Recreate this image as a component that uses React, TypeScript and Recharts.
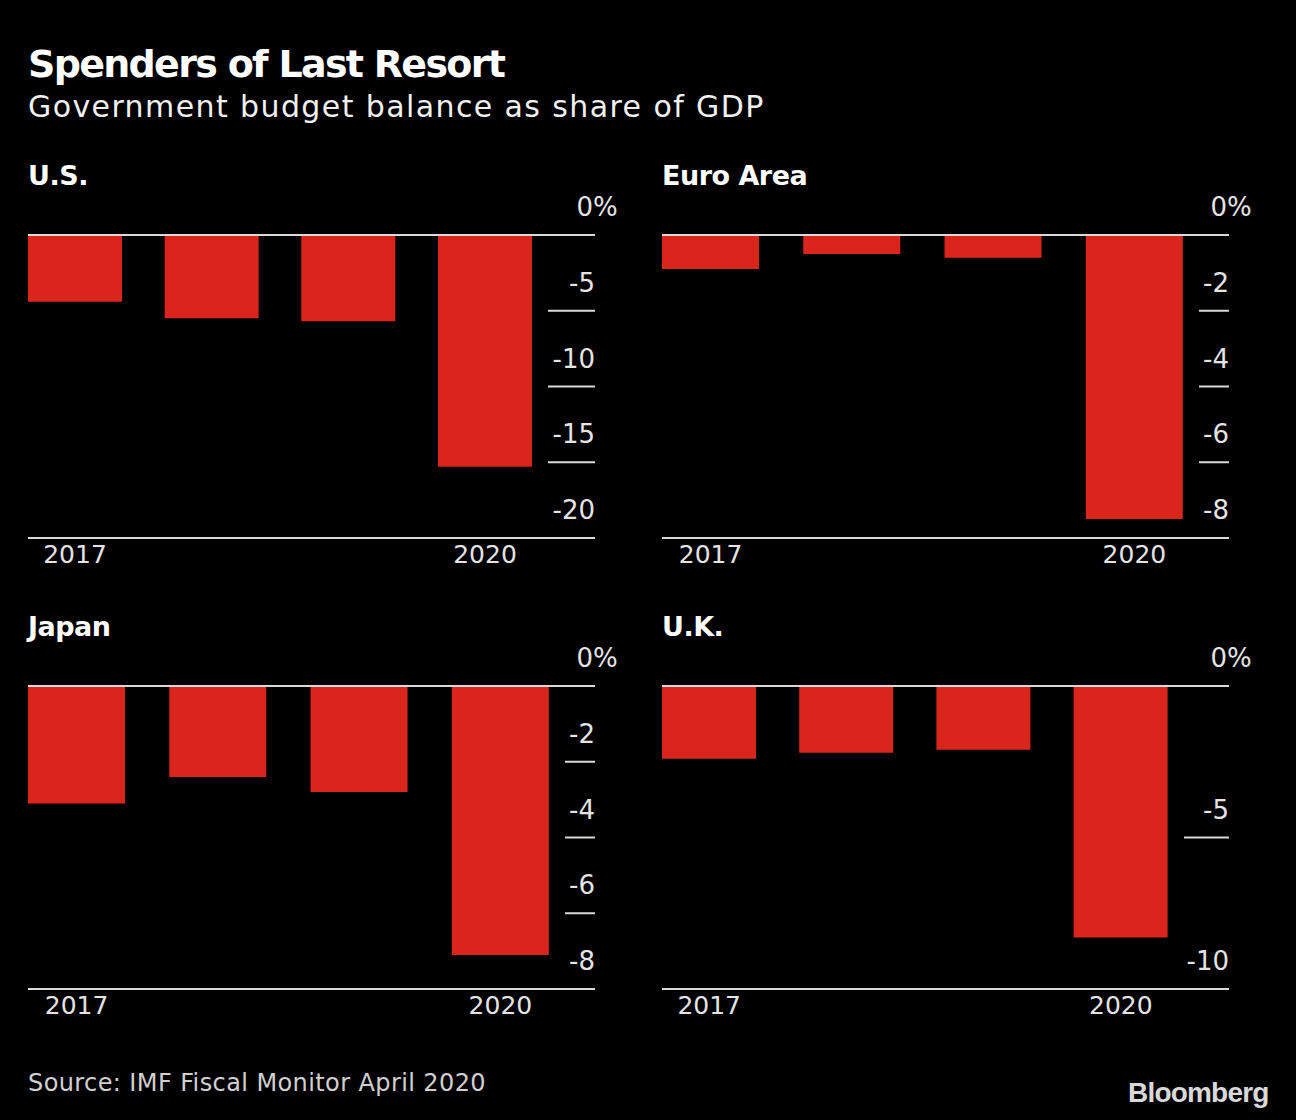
import React from "react";
import { BarChart, Bar, XAxis, YAxis, ReferenceLine } from "recharts";

const years = ["2017", "2018", "2019", "2020"];
const usBalance = [-4.4, -5.5, -5.7, -15.3];
const euroBalance = [-0.9, -0.5, -0.6, -7.5];
const japanBalance = [-3.1, -2.4, -2.8, -7.1];
const ukBalance = [-2.4, -2.2, -2.1, -8.3];

const usTicks = [0, -5, -10, -15, -20];
const euroTicks = [0, -2, -4, -6, -8];
const japanTicks = [0, -2, -4, -6, -8];
const ukTicks = [0, -5, -10];
const shownYears = ["2017", "2020"];

const RED = "#da251d";
const TEXT = "#e4e4e4";
const RULE = "#d9d9d9";
const FONT = "'DejaVu Sans', sans-serif";

const CHART_W = 660;
const CHART_H = 390;
const PLOT_L = 28;
const PLOT_W = 567;
const PLOT_TOP = 50;
const AXIS_H = 37;
const Y_AXIS_W = 60;
const BAR_FRAC = 0.688;

interface PanelProps {
  title: string;
  values: number[];
  ticks: number[];
  left: number;
  top: number;
  ruleWidth: number;
}

const YTick = (props: any) => {
  const { x, y, payload, ruleWidth } = props;
  const v = payload.value;
  return (
    <g>
      {v !== 0 && (
        <line x1={x - ruleWidth} x2={x} y1={y} y2={y} stroke={RULE} strokeWidth={2} />
      )}
      <text x={v === 0 ? x - 2 : x} y={y - 19} textAnchor="end" fill={TEXT} fontSize={26} fontFamily={FONT}>
        {String(v)}
      </text>
      {v === 0 && (
        <text x={x - 2} y={y - 19} textAnchor="start" fill={TEXT} fontSize={26} fontFamily={FONT}>
          %
        </text>
      )}
    </g>
  );
};

const XTick = (props: any) => {
  const { x, y, payload } = props;
  if (!shownYears.includes(payload.value)) return <g />;
  return (
    <text x={x} y={y + 25} textAnchor="middle" fill={TEXT} fontSize={25} fontFamily={FONT}>
      {payload.value}
    </text>
  );
};

const Panel: React.FC<PanelProps> = ({ title, values, ticks, left, top, ruleWidth }) => {
  const data = years.map((year, i) => ({ year, value: values[i] }));
  const barsW = PLOT_W - ruleWidth - 16;
  const band = barsW / (3 + BAR_FRAC);
  const gap = band * (1 - BAR_FRAC);
  const minTick = Math.min(...ticks);
  return (
    <>
      <div
        style={{
          position: "absolute",
          left: left + PLOT_L,
          top: top - 23,
          fontFamily: FONT,
          fontWeight: "bold",
          fontSize: 27,
          lineHeight: "27px",
          color: "#fff",
          letterSpacing: -0.5,
        }}
      >
        {title}
      </div>
      <div style={{ position: "absolute", left, top }}>
        <BarChart
          width={CHART_W}
          height={CHART_H}
          data={data}
          margin={{ top: PLOT_TOP, left: PLOT_L, right: CHART_W - PLOT_L - PLOT_W - Y_AXIS_W, bottom: 0 }}
          barCategoryGap={`${((1 - BAR_FRAC) / 2) * 100}%`}
        >
          <XAxis
            dataKey="year"
            height={AXIS_H}
            padding={{ left: -gap / 2, right: ruleWidth + 16 - gap / 2 }}
            axisLine={{ stroke: RULE, strokeWidth: 2 }}
            tickLine={false}
            tickSize={0}
            tickMargin={0}
            interval={0}
            tick={<XTick />}
          />
          <YAxis
            orientation="right"
            width={Y_AXIS_W}
            type="number"
            domain={[minTick, 0]}
            ticks={ticks}
            axisLine={false}
            tickLine={false}
            tickSize={0}
            tickMargin={0}
            interval={0}
            tick={<YTick ruleWidth={ruleWidth} />}
          />
          <Bar dataKey="value" fill={RED} isAnimationActive={false} />
          <ReferenceLine y={0} stroke={RULE} strokeWidth={2} />
        </BarChart>
      </div>
    </>
  );
};

export default function App() {
  return (
    <div
      style={{
        position: "absolute",
        left: 0,
        top: 0,
        width: 1296,
        height: 1120,
        background: "#000",
        overflow: "hidden",
      }}
    >
      <div
        style={{
          position: "absolute",
          left: 28,
          top: 45,
          fontFamily: FONT,
          fontWeight: "bold",
          fontSize: 38,
          lineHeight: "38px",
          letterSpacing: -1.7,
          color: "#fff",
          whiteSpace: "nowrap",
        }}
      >
        Spenders of Last Resort
      </div>
      <div
        style={{
          position: "absolute",
          left: 28,
          top: 92,
          fontFamily: FONT,
          fontSize: 30,
          lineHeight: "29px",
          letterSpacing: 1.4,
          color: "#f0f0f0",
          whiteSpace: "nowrap",
        }}
      >
        Government budget balance as share of GDP
      </div>

      <Panel title="U.S." values={usBalance} ticks={usTicks} left={0} top={185} ruleWidth={47} />
      <Panel title="Euro Area" values={euroBalance} ticks={euroTicks} left={634} top={185} ruleWidth={30} />
      <Panel title="Japan" values={japanBalance} ticks={japanTicks} left={0} top={636} ruleWidth={30} />
      <Panel title="U.K." values={ukBalance} ticks={ukTicks} left={634} top={636} ruleWidth={45} />

      <div
        style={{
          position: "absolute",
          left: 28,
          top: 1071,
          fontFamily: FONT,
          fontSize: 24,
          lineHeight: "24px",
          letterSpacing: 0.4,
          color: "#d0d0d0",
          whiteSpace: "nowrap",
        }}
      >
        Source: IMF Fiscal Monitor April 2020
      </div>
      <div
        style={{
          position: "absolute",
          left: 1128,
          top: 1079,
          fontFamily: "'Liberation Sans', Arial, sans-serif",
          fontWeight: "bold",
          fontSize: 28,
          lineHeight: "28px",
          letterSpacing: -0.8,
          color: "#d8d8d8",
          whiteSpace: "nowrap",
        }}
      >
        Bloomberg
      </div>
    </div>
  );
}
